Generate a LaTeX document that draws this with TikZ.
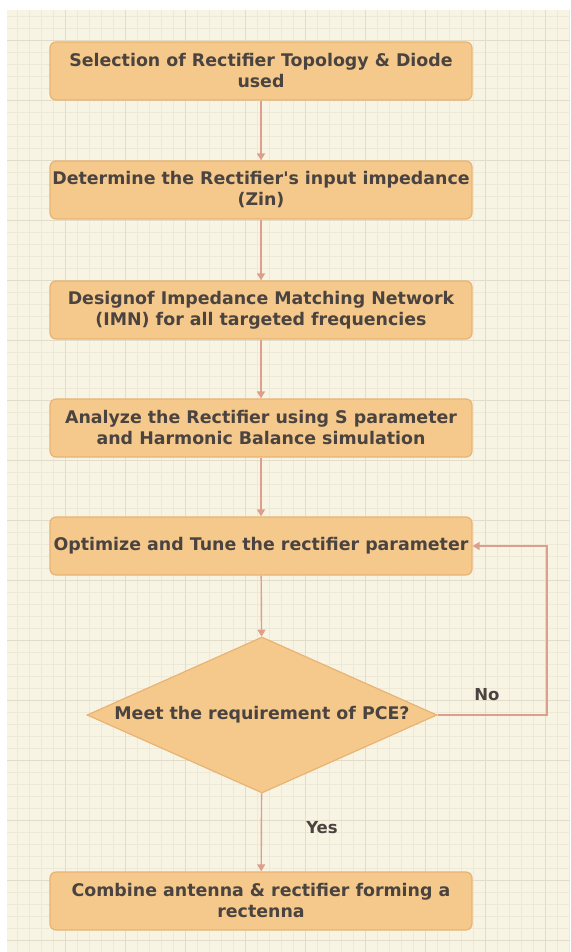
\documentclass[tikz,border=0pt]{standalone}
\usepackage{fontspec}
\setmainfont{DejaVu Sans}
\usetikzlibrary{shapes.geometric,arrows.meta}

\definecolor{paper}{HTML}{F8F4E4}
\definecolor{gridminor}{HTML}{EEE9D6}
\definecolor{gridmajor}{HTML}{E2DCC8}
\definecolor{boxfill}{HTML}{F5C98B}
\definecolor{boxline}{HTML}{E8B373}
\definecolor{flow}{HTML}{DD9E8C}
\definecolor{ink}{HTML}{4A4340}

\tikzset{
  stepbox/.style={draw=boxline, line width=1.2pt, fill=boxfill, rounded corners=6pt,
    minimum width=422pt, minimum height=58pt, inner sep=2pt, align=center,
    text=ink, font=\fontsize{17.4}{21}\selectfont\bfseries},
  decision/.style={diamond, draw=boxline, line width=1.2pt, fill=boxfill,
    minimum width=350pt, minimum height=156pt, aspect=2.24, inner sep=0pt,
    text=ink, font=\fontsize{17.4}{21}\selectfont\bfseries},
  flowline/.style={draw=flow, line width=1.4pt, -{Triangle[width=8pt,length=7pt]}},
  branch/.style={text=ink, font=\fontsize{16.5}{20}\selectfont\bfseries}
}

\begin{document}
\begin{tikzpicture}[x=1pt,y=-1pt]
  % page and squared paper
  \useasboundingbox (0,0) rectangle (570,952);
  \fill[white] (0,0) rectangle (570,952);
  \fill[paper] (7,10) rectangle (570,952);
  \foreach \gx in {17,29,...,569} \draw[gridminor, line width=0.6pt] (\gx,10) -- (\gx,952);
  \foreach \gy in {16,28,...,951} \draw[gridminor, line width=0.6pt] (7,\gy) -- (570,\gy);
  \foreach \gx in {65,125,...,569} \draw[gridmajor, line width=0.9pt] (\gx,10) -- (\gx,952);
  \foreach \gy in {40,100,...,951} \draw[gridmajor, line width=0.9pt] (7,\gy) -- (570,\gy);

  % process steps
  \node[stepbox] (select) at (261,71)  {Selection of Rectifier Topology \& Diode\\used};
  \node[stepbox] (zin)    at (261,190) {Determine the Rectifier\textquotesingle s input impedance\\(Zin)};
  \node[stepbox] (imn)    at (261,310) {Designof Impedance Matching Network\\(IMN) for all targeted frequencies};
  \node[stepbox] (sim)    at (261,428) {Analyze the Rectifier using S parameter\\and Harmonic Balance simulation};
  \node[stepbox] (tune)   at (261,546) {Optimize and Tune the rectifier parameter};
  \node[decision] (pce)   at (262,715) {Meet the requirement of PCE?};
  \node[stepbox] (combine) at (261,901) {Combine antenna \& rectifier forming a\\rectenna};

  % connectors
  \draw[flowline] (select) -- (zin);
  \draw[flowline] (zin) -- (imn);
  \draw[flowline] (imn) -- (sim);
  \draw[flowline] (sim) -- (tune);
  \draw[flowline] (tune) -- (pce);
  \draw[flowline] (pce) -- (combine);
  \coordinate (loop) at (547,546);
  \draw[flowline] (pce.east) -| (loop) -- (tune.east);

  % branch labels
  \node[branch] (no)  at (487,695) {No};
  \node[branch] (yes) at (322,828) {Yes};
\end{tikzpicture}
\end{document}
